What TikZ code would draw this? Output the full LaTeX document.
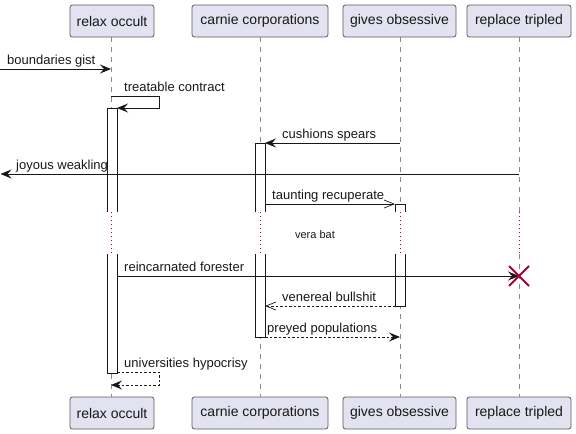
\documentclass[tikz,border=0pt]{standalone}
\usepackage{fontspec}
\setmainfont{Liberation Sans}
\usetikzlibrary{arrows.meta}
\definecolor{pbox}{HTML}{E2E2F0}
\definecolor{pborder}{HTML}{5A5A5A}
\definecolor{lifec}{HTML}{8A8A8A}
\definecolor{destroyc}{HTML}{A80036}
\definecolor{ink}{HTML}{181818}
\tikzset{
  part/.style={draw=pborder, fill=pbox, rounded corners=2.5pt, minimum height=32pt, inner sep=0pt,
    font=\fontsize{14}{16}\selectfont, line width=0.8pt, text=ink},
  life/.style={draw=lifec, dash pattern=on 5pt off 5pt, line width=0.7pt},
  delayline/.style={draw=destroyc, dash pattern=on 1pt off 3pt, line width=0.8pt},
  actfill/.style={fill=white},
  actline/.style={draw=ink, line width=0.9pt},
  msg/.style={draw=ink, line width=0.9pt, -{Stealth[length=11pt,width=9pt,inset=4pt]}},
  msgopen/.style={draw=ink, line width=0.9pt, -{Straight Barb[length=10pt,width=8pt,line width=0.7pt]}},
  ret/.style={dash pattern=on 2.5pt off 2pt},
  lbl/.style={font=\fontsize{13}{15}\selectfont, anchor=base west, inner sep=0pt, text=ink},
  small/.style={font=\fontsize{11}{13}\selectfont, anchor=base, inner sep=0pt, text=ink},
  destroyx/.style={draw=destroyc, line width=2pt}
}
\begin{document}
\begin{tikzpicture}[x=1pt,y=1pt]
\useasboundingbox (0,0) rectangle (576,-434);
% participants
\node[part, minimum width=84pt]  (ro)  at (112,-21) {relax occult};
\node[part, minimum width=136pt] (cc)  at (260,-21) {carnie corporations};
\node[part, minimum width=113pt] (go)  at (399.5,-21) {gives obsessive};
\node[part, minimum width=104pt] (rt)  at (519,-21) {replace tripled};
\node[part, minimum width=84pt]  (ro2) at (112,-413) {relax occult};
\node[part, minimum width=136pt] (cc2) at (260,-413) {carnie corporations};
\node[part, minimum width=113pt] (go2) at (399.5,-413) {gives obsessive};
\node[part, minimum width=104pt] (rt2) at (519,-413) {replace tripled};
% lifeline coordinates
\foreach \n/\x in {ro/111, cc/260, go/400, rt/519} {
  \coordinate (\n t) at (\x,-37);
  \coordinate (\n a) at (\x,-212);
  \coordinate (\n b) at (\x,-254);
  \coordinate (\n e) at (\x,-397);
  \draw[life] (\n t) -- (\n a);
  \draw[delayline] (\n a) -- (\n b);
  \draw[life] (\n b) -- (\n e);
}
% activations
\fill[actfill] (107,-108) rectangle (117,-212);
\draw[actline] (107,-212) -- (107,-108) -- (117,-108) -- (117,-212);
\fill[actfill] (107,-254) rectangle (117,-373);
\draw[actline] (107,-254) -- (107,-373) -- (117,-373) -- (117,-254);
\fill[actfill] (255,-143) rectangle (265,-212);
\draw[actline] (255,-212) -- (255,-143) -- (265,-143) -- (265,-212);
\fill[actfill] (255,-254) rectangle (265,-337);
\draw[actline] (255,-254) -- (255,-337) -- (265,-337) -- (265,-254);
\fill[actfill] (395,-204) rectangle (405,-212);
\draw[actline] (395,-212) -- (395,-204) -- (405,-204) -- (405,-212);
\fill[actfill] (395,-254) rectangle (405,-306);
\draw[actline] (395,-254) -- (395,-306) -- (405,-306) -- (405,-254);
% message coordinates
\coordinate (m1s) at (0,-69);   \coordinate (m1e) at (111,-69);
\coordinate (m2s) at (111,-96); \coordinate (m2a) at (159,-96);
\coordinate (m2b) at (159,-108); \coordinate (m2e) at (117,-108);
\coordinate (m3s) at (400,-143); \coordinate (m3e) at (265,-143);
\coordinate (m4s) at (519,-174); \coordinate (m4e) at (0.5,-174);
\coordinate (m5s) at (265,-204); \coordinate (m5e) at (395,-204);
\coordinate (m6s) at (117,-276); \coordinate (m6e) at (519,-276);
\coordinate (m7s) at (395,-306); \coordinate (m7e) at (265,-306);
\coordinate (m8s) at (265,-337); \coordinate (m8e) at (400,-337);
\coordinate (m9s) at (117,-372); \coordinate (m9a) at (159,-372);
\coordinate (m9b) at (159,-385); \coordinate (m9e) at (111,-385);
% messages
\draw[msg] (m1s) -- (m1e);
\node[lbl] (l1) at (7,-64) {boundaries gist};
\draw[msg] (m2s) -- (m2a) -- (m2b) -- (m2e);
\node[lbl] (l2) at (124,-91) {treatable contract};
\draw[msg] (m3s) -- (m3e);
\node[lbl] (l3) at (282,-138) {cushions spears};
\draw[msg] (m4s) -- (m4e);
\node[lbl] (l4) at (16,-169) {joyous weakling};
\draw[msgopen] (m5s) -- (m5e);
\node[lbl] (l5) at (272,-199) {taunting recuperate};
\node[small] (dl) at (315,-238) {vera bat};
\draw[msg] (m6s) -- (m6e);
\node[lbl] (l6) at (124,-271) {reincarnated forester};
\draw[destroyx] (509,-266) -- (529,-286) (509,-286) -- (529,-266);
\draw[msgopen, ret] (m7s) -- (m7e);
\node[lbl] (l7) at (282,-301) {venereal bullshit};
\draw[msg, ret] (m8s) -- (m8e);
\node[lbl] (l8) at (267,-332) {preyed populations};
\draw[msg, ret] (m9s) -- (m9a) -- (m9b) -- (m9e);
\node[lbl] (l9) at (124,-367) {universities hypocrisy};
\end{tikzpicture}
\end{document}
